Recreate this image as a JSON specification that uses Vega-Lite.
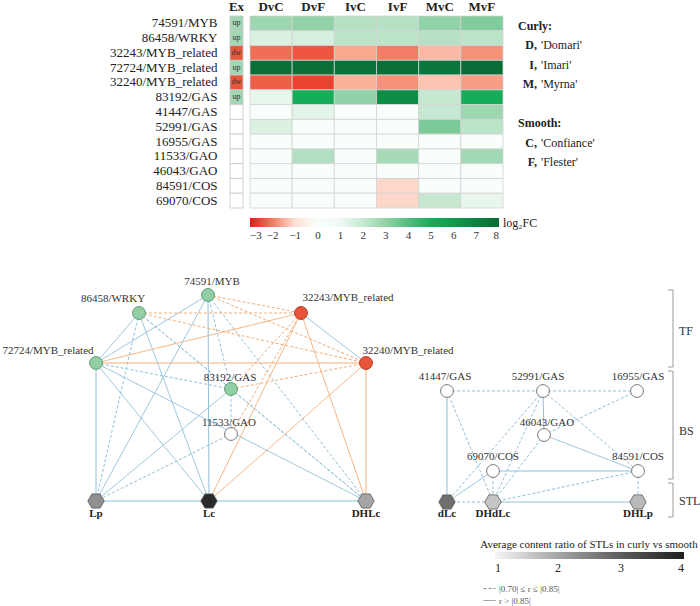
{
  "$schema": "https://vega.github.io/schema/vega-lite/v6.json",
  "padding": 0,
  "background": "white",
  "config": {"font": "Liberation Serif", "view": {"stroke": null}},
  "datasets": {
    "ex": [
      {"gene": "74591/MYB", "col": "Ex", "ex": "up", "lab": "up"},
      {"gene": "86458/WRKY", "col": "Ex", "ex": "up", "lab": "up"},
      {"gene": "32243/MYB_related", "col": "Ex", "ex": "dw", "lab": "dw"},
      {"gene": "72724/MYB_related", "col": "Ex", "ex": "up", "lab": "up"},
      {"gene": "32240/MYB_related", "col": "Ex", "ex": "dw", "lab": "dw"},
      {"gene": "83192/GAS", "col": "Ex", "ex": "up", "lab": "up"},
      {"gene": "41447/GAS", "col": "Ex", "ex": "none", "lab": ""},
      {"gene": "52991/GAS", "col": "Ex", "ex": "none", "lab": ""},
      {"gene": "16955/GAS", "col": "Ex", "ex": "none", "lab": ""},
      {"gene": "11533/GAO", "col": "Ex", "ex": "none", "lab": ""},
      {"gene": "46043/GAO", "col": "Ex", "ex": "none", "lab": ""},
      {"gene": "84591/COS", "col": "Ex", "ex": "none", "lab": ""},
      {"gene": "69070/COS", "col": "Ex", "ex": "none", "lab": ""}
    ],
    "heat": [
      {"gene": "74591/MYB", "cmp": "DvC", "v": 2.8}, {"gene": "74591/MYB", "cmp": "DvF", "v": 3.0}, {"gene": "74591/MYB", "cmp": "IvC", "v": 2.3}, {"gene": "74591/MYB", "cmp": "IvF", "v": 2.3}, {"gene": "74591/MYB", "cmp": "MvC", "v": 3.0}, {"gene": "74591/MYB", "cmp": "MvF", "v": 3.3},
      {"gene": "86458/WRKY", "cmp": "DvC", "v": 1.5}, {"gene": "86458/WRKY", "cmp": "DvF", "v": 1.6}, {"gene": "86458/WRKY", "cmp": "IvC", "v": 2.2}, {"gene": "86458/WRKY", "cmp": "IvF", "v": 2.2}, {"gene": "86458/WRKY", "cmp": "MvC", "v": 2.3}, {"gene": "86458/WRKY", "cmp": "MvF", "v": 2.2},
      {"gene": "32243/MYB_related", "cmp": "DvC", "v": -2.2}, {"gene": "32243/MYB_related", "cmp": "DvF", "v": -2.5}, {"gene": "32243/MYB_related", "cmp": "IvC", "v": -1.6}, {"gene": "32243/MYB_related", "cmp": "IvF", "v": -2.0}, {"gene": "32243/MYB_related", "cmp": "MvC", "v": -1.4}, {"gene": "32243/MYB_related", "cmp": "MvF", "v": -1.8},
      {"gene": "72724/MYB_related", "cmp": "DvC", "v": 7.8}, {"gene": "72724/MYB_related", "cmp": "DvF", "v": 7.8}, {"gene": "72724/MYB_related", "cmp": "IvC", "v": 7.6}, {"gene": "72724/MYB_related", "cmp": "IvF", "v": 7.8}, {"gene": "72724/MYB_related", "cmp": "MvC", "v": 7.5}, {"gene": "72724/MYB_related", "cmp": "MvF", "v": 7.9},
      {"gene": "32240/MYB_related", "cmp": "DvC", "v": -2.4}, {"gene": "32240/MYB_related", "cmp": "DvF", "v": -2.7}, {"gene": "32240/MYB_related", "cmp": "IvC", "v": -1.5}, {"gene": "32240/MYB_related", "cmp": "IvF", "v": -1.8}, {"gene": "32240/MYB_related", "cmp": "MvC", "v": -1.3}, {"gene": "32240/MYB_related", "cmp": "MvF", "v": -1.7},
      {"gene": "83192/GAS", "cmp": "DvC", "v": 1.2}, {"gene": "83192/GAS", "cmp": "DvF", "v": 5.0}, {"gene": "83192/GAS", "cmp": "IvC", "v": 3.0}, {"gene": "83192/GAS", "cmp": "IvF", "v": 6.5}, {"gene": "83192/GAS", "cmp": "MvC", "v": 2.0}, {"gene": "83192/GAS", "cmp": "MvF", "v": 5.0},
      {"gene": "41447/GAS", "cmp": "DvC", "v": 0}, {"gene": "41447/GAS", "cmp": "DvF", "v": 1.3}, {"gene": "41447/GAS", "cmp": "IvC", "v": 0}, {"gene": "41447/GAS", "cmp": "IvF", "v": 0}, {"gene": "41447/GAS", "cmp": "MvC", "v": 2.0}, {"gene": "41447/GAS", "cmp": "MvF", "v": 2.8},
      {"gene": "52991/GAS", "cmp": "DvC", "v": 1.5}, {"gene": "52991/GAS", "cmp": "DvF", "v": 0}, {"gene": "52991/GAS", "cmp": "IvC", "v": 0}, {"gene": "52991/GAS", "cmp": "IvF", "v": 0}, {"gene": "52991/GAS", "cmp": "MvC", "v": 3.4}, {"gene": "52991/GAS", "cmp": "MvF", "v": 2.2},
      {"gene": "16955/GAS", "cmp": "DvC", "v": 0}, {"gene": "16955/GAS", "cmp": "DvF", "v": 0}, {"gene": "16955/GAS", "cmp": "IvC", "v": 0}, {"gene": "16955/GAS", "cmp": "IvF", "v": 0}, {"gene": "16955/GAS", "cmp": "MvC", "v": 0}, {"gene": "16955/GAS", "cmp": "MvF", "v": 0},
      {"gene": "11533/GAO", "cmp": "DvC", "v": 0}, {"gene": "11533/GAO", "cmp": "DvF", "v": 2.4}, {"gene": "11533/GAO", "cmp": "IvC", "v": 0}, {"gene": "11533/GAO", "cmp": "IvF", "v": 2.6}, {"gene": "11533/GAO", "cmp": "MvC", "v": 0}, {"gene": "11533/GAO", "cmp": "MvF", "v": 2.7},
      {"gene": "46043/GAO", "cmp": "DvC", "v": 0}, {"gene": "46043/GAO", "cmp": "DvF", "v": 0}, {"gene": "46043/GAO", "cmp": "IvC", "v": 0}, {"gene": "46043/GAO", "cmp": "IvF", "v": 0}, {"gene": "46043/GAO", "cmp": "MvC", "v": 0}, {"gene": "46043/GAO", "cmp": "MvF", "v": 0},
      {"gene": "84591/COS", "cmp": "DvC", "v": 0}, {"gene": "84591/COS", "cmp": "DvF", "v": 0}, {"gene": "84591/COS", "cmp": "IvC", "v": 0}, {"gene": "84591/COS", "cmp": "IvF", "v": -1.1}, {"gene": "84591/COS", "cmp": "MvC", "v": 0}, {"gene": "84591/COS", "cmp": "MvF", "v": 0},
      {"gene": "69070/COS", "cmp": "DvC", "v": 0}, {"gene": "69070/COS", "cmp": "DvF", "v": 0}, {"gene": "69070/COS", "cmp": "IvC", "v": 0}, {"gene": "69070/COS", "cmp": "IvF", "v": -1.1}, {"gene": "69070/COS", "cmp": "MvC", "v": 2.0}, {"gene": "69070/COS", "cmp": "MvF", "v": 1.2}
    ],
    "legtext": [
      {"line": 1, "lvl": 0, "b": "Curly:", "n": ""},
      {"line": 2, "lvl": 1, "b": "D,", "n": "'Domari'"},
      {"line": 3, "lvl": 1, "b": "I,", "n": "'Imari'"},
      {"line": 4, "lvl": 1, "b": "M,", "n": "'Myrna'"},
      {"line": 6, "lvl": 0, "b": "Smooth:", "n": ""},
      {"line": 7, "lvl": 1, "b": "C,", "n": "'Confiance'"},
      {"line": 8, "lvl": 1, "b": "F,", "n": "'Flester'"}
    ],
    "nodes": [
      {"id": "A", "name": "74591/MYB", "kind": "gene", "exp": "up", "x": 208, "y": 295, "lx": 212, "ly": 282},
      {"id": "W", "name": "86458/WRKY", "kind": "gene", "exp": "up", "x": 139, "y": 313, "lx": 113, "ly": 299},
      {"id": "R1", "name": "32243/MYB_related", "kind": "gene", "exp": "dw", "x": 301, "y": 313, "lx": 348, "ly": 298},
      {"id": "M", "name": "72724/MYB_related", "kind": "gene", "exp": "up", "x": 96, "y": 363, "lx": 48, "ly": 351},
      {"id": "R2", "name": "32240/MYB_related", "kind": "gene", "exp": "dw", "x": 366, "y": 363, "lx": 408, "ly": 351},
      {"id": "G", "name": "83192/GAS", "kind": "gene", "exp": "up", "x": 231, "y": 389, "lx": 230, "ly": 378},
      {"id": "O", "name": "11533/GAO", "kind": "gene", "exp": "none", "x": 231, "y": 434, "lx": 229, "ly": 423},
      {"id": "Lp", "name": "Lp", "kind": "stl", "ratio": 2.3, "x": 96, "y": 501, "lx": 96, "ly": 514},
      {"id": "Lc", "name": "Lc", "kind": "stl", "ratio": 3.8, "x": 209, "y": 501, "lx": 209, "ly": 514},
      {"id": "DHLc", "name": "DHLc", "kind": "stl", "ratio": 2.0, "x": 366, "y": 501, "lx": 366, "ly": 514},
      {"id": "g1", "name": "41447/GAS", "kind": "gene", "exp": "none", "x": 447, "y": 391, "lx": 445, "ly": 377},
      {"id": "g2", "name": "52991/GAS", "kind": "gene", "exp": "none", "x": 543, "y": 391, "lx": 538, "ly": 377},
      {"id": "g3", "name": "16955/GAS", "kind": "gene", "exp": "none", "x": 637, "y": 391, "lx": 638, "ly": 377},
      {"id": "o2", "name": "46043/GAO", "kind": "gene", "exp": "none", "x": 544, "y": 435, "lx": 547, "ly": 423},
      {"id": "c1", "name": "69070/COS", "kind": "gene", "exp": "none", "x": 493, "y": 471, "lx": 493, "ly": 457},
      {"id": "c2", "name": "84591/COS", "kind": "gene", "exp": "none", "x": 638, "y": 471, "lx": 638, "ly": 457},
      {"id": "dLc", "name": "dLc", "kind": "stl", "ratio": 2.75, "x": 447, "y": 502, "lx": 447, "ly": 514},
      {"id": "DHdLc", "name": "DHdLc", "kind": "stl", "ratio": 1.6, "x": 493, "y": 502, "lx": 493, "ly": 514},
      {"id": "DHLp", "name": "DHLp", "kind": "stl", "ratio": 1.75, "x": 638, "y": 502, "lx": 638, "ly": 514}
    ],
    "edges": [
      {"s": "W", "t": "M", "sign": "pos", "r": "r > |0.85|"},
      {"s": "A", "t": "M", "sign": "pos", "r": "r > |0.85|"},
      {"s": "M", "t": "Lp", "sign": "pos", "r": "r > |0.85|"},
      {"s": "A", "t": "Lc", "sign": "pos", "r": "r > |0.85|"},
      {"s": "Lp", "t": "Lc", "sign": "pos", "r": "r > |0.85|"},
      {"s": "Lc", "t": "DHLc", "sign": "pos", "r": "r > |0.85|"},
      {"s": "A", "t": "Lp", "sign": "pos", "r": "r > |0.85|"},
      {"s": "W", "t": "Lc", "sign": "pos", "r": "r > |0.85|"},
      {"s": "M", "t": "Lc", "sign": "pos", "r": "r > |0.85|"},
      {"s": "G", "t": "Lp", "sign": "pos", "r": "r > |0.85|"},
      {"s": "M", "t": "DHLc", "sign": "pos", "r": "r > |0.85|"},
      {"s": "R1", "t": "R2", "sign": "pos", "r": "r > |0.85|"},
      {"s": "W", "t": "Lp", "sign": "pos", "r": "|0.70| ≤ r ≤ |0.85|"},
      {"s": "W", "t": "G", "sign": "pos", "r": "|0.70| ≤ r ≤ |0.85|"},
      {"s": "A", "t": "G", "sign": "pos", "r": "|0.70| ≤ r ≤ |0.85|"},
      {"s": "M", "t": "G", "sign": "pos", "r": "|0.70| ≤ r ≤ |0.85|"},
      {"s": "G", "t": "O", "sign": "pos", "r": "|0.70| ≤ r ≤ |0.85|"},
      {"s": "O", "t": "Lp", "sign": "pos", "r": "|0.70| ≤ r ≤ |0.85|"},
      {"s": "A", "t": "DHLc", "sign": "pos", "r": "|0.70| ≤ r ≤ |0.85|"},
      {"s": "W", "t": "DHLc", "sign": "pos", "r": "|0.70| ≤ r ≤ |0.85|"},
      {"s": "G", "t": "DHLc", "sign": "pos", "r": "|0.70| ≤ r ≤ |0.85|"},
      {"s": "M", "t": "R1", "sign": "neg", "r": "r > |0.85|"},
      {"s": "M", "t": "R2", "sign": "neg", "r": "r > |0.85|"},
      {"s": "R1", "t": "Lc", "sign": "neg", "r": "r > |0.85|"},
      {"s": "R2", "t": "Lc", "sign": "neg", "r": "r > |0.85|"},
      {"s": "R1", "t": "DHLc", "sign": "neg", "r": "r > |0.85|"},
      {"s": "R2", "t": "DHLc", "sign": "neg", "r": "r > |0.85|"},
      {"s": "A", "t": "R1", "sign": "neg", "r": "|0.70| ≤ r ≤ |0.85|"},
      {"s": "A", "t": "R2", "sign": "neg", "r": "|0.70| ≤ r ≤ |0.85|"},
      {"s": "W", "t": "R1", "sign": "neg", "r": "|0.70| ≤ r ≤ |0.85|"},
      {"s": "W", "t": "R2", "sign": "neg", "r": "|0.70| ≤ r ≤ |0.85|"},
      {"s": "G", "t": "R1", "sign": "neg", "r": "|0.70| ≤ r ≤ |0.85|"},
      {"s": "G", "t": "R2", "sign": "neg", "r": "|0.70| ≤ r ≤ |0.85|"},
      {"s": "R1", "t": "O", "sign": "neg", "r": "|0.70| ≤ r ≤ |0.85|"},
      {"s": "g1", "t": "dLc", "sign": "pos", "r": "r > |0.85|"},
      {"s": "g2", "t": "o2", "sign": "pos", "r": "r > |0.85|"},
      {"s": "o2", "t": "c2", "sign": "pos", "r": "r > |0.85|"},
      {"s": "c1", "t": "c2", "sign": "pos", "r": "r > |0.85|"},
      {"s": "c1", "t": "dLc", "sign": "pos", "r": "r > |0.85|"},
      {"s": "DHdLc", "t": "DHLp", "sign": "pos", "r": "r > |0.85|"},
      {"s": "g1", "t": "g2", "sign": "pos", "r": "|0.70| ≤ r ≤ |0.85|"},
      {"s": "g2", "t": "g3", "sign": "pos", "r": "|0.70| ≤ r ≤ |0.85|"},
      {"s": "g1", "t": "DHdLc", "sign": "pos", "r": "|0.70| ≤ r ≤ |0.85|"},
      {"s": "g2", "t": "dLc", "sign": "pos", "r": "|0.70| ≤ r ≤ |0.85|"},
      {"s": "g2", "t": "DHdLc", "sign": "pos", "r": "|0.70| ≤ r ≤ |0.85|"},
      {"s": "g2", "t": "c2", "sign": "pos", "r": "|0.70| ≤ r ≤ |0.85|"},
      {"s": "g3", "t": "o2", "sign": "pos", "r": "|0.70| ≤ r ≤ |0.85|"},
      {"s": "o2", "t": "DHdLc", "sign": "pos", "r": "|0.70| ≤ r ≤ |0.85|"},
      {"s": "c1", "t": "DHdLc", "sign": "pos", "r": "|0.70| ≤ r ≤ |0.85|"},
      {"s": "dLc", "t": "DHdLc", "sign": "pos", "r": "|0.70| ≤ r ≤ |0.85|"},
      {"s": "c2", "t": "DHLp", "sign": "pos", "r": "|0.70| ≤ r ≤ |0.85|"},
      {"s": "c2", "t": "DHdLc", "sign": "pos", "r": "|0.70| ≤ r ≤ |0.85|"}
    ],
    "brackets": [
      {"g": "TF", "y1": 290, "y2": 367, "ym": 331},
      {"g": "BS", "y1": 371, "y2": 479, "ym": 431},
      {"g": "STL", "y1": 483, "y2": 517, "ym": 501}
    ],
    "notes": [
      {"text": "Average content ratio of STLs in curly vs smooth", "x": 589, "y": 545}
    ]
  },
  "spacing": 19,
  "resolve": {"scale": {"color": "independent", "stroke": "independent", "strokeDash": "independent"}, "legend": {"color": "independent", "strokeDash": "independent"}},
  "vconcat": [
    {
      "bounds": "flush",
      "spacing": 7,
      "resolve": {"scale": {"color": "independent"}, "legend": {"color": "independent"}},
      "hconcat": [
        {
          "width": 13,
          "height": 192,
          "data": {"name": "ex"},
          "encoding": {
            "x": {"field": "col", "type": "nominal", "axis": {"orient": "top", "title": null, "labelAngle": 0, "labelFontWeight": "bold", "labelFontSize": 13, "labelColor": "#222", "ticks": false, "domain": false, "labelPadding": 3}},
            "y": {"field": "gene", "type": "nominal", "sort": ["74591/MYB", "86458/WRKY", "32243/MYB_related", "72724/MYB_related", "32240/MYB_related", "83192/GAS", "41447/GAS", "52991/GAS", "16955/GAS", "11533/GAO", "46043/GAO", "84591/COS", "69070/COS"], "axis": {"title": null, "ticks": false, "domain": false, "labelFontSize": 13, "labelColor": "#222", "labelPadding": 13, "minExtent": 230}}
          },
          "layer": [
            {
              "mark": {"type": "rect", "stroke": "#c8c8c8", "strokeWidth": 0.8},
              "encoding": {"color": {"field": "ex", "type": "nominal", "scale": {"domain": ["up", "dw", "none"], "range": ["#a2d7b3", "#e5563b", "#ffffff"]}, "legend": null}}
            },
            {
              "mark": {"type": "text", "fontSize": 8, "color": "#333"},
              "encoding": {"text": {"field": "lab"}}
            }
          ]
        },
        {
          "width": 253,
          "height": 192,
          "data": {"name": "heat"},
          "mark": {"type": "rect", "stroke": "#d3d3d3", "strokeWidth": 0.8},
          "encoding": {
            "x": {"field": "cmp", "type": "nominal", "sort": ["DvC", "DvF", "IvC", "IvF", "MvC", "MvF"], "axis": {"orient": "top", "title": null, "labelAngle": 0, "labelFontWeight": "bold", "labelFontSize": 13, "labelColor": "#222", "ticks": false, "domain": false, "labelPadding": 3}},
            "y": {"field": "gene", "type": "nominal", "sort": ["74591/MYB", "86458/WRKY", "32243/MYB_related", "72724/MYB_related", "32240/MYB_related", "83192/GAS", "41447/GAS", "52991/GAS", "16955/GAS", "11533/GAO", "46043/GAO", "84591/COS", "69070/COS"], "axis": null},
            "color": {
              "field": "v", "type": "quantitative",
              "scale": {"domain": [-3, -2, -1, 0, 1, 2, 3, 4, 5, 6, 7, 8], "range": ["#e8161b", "#f27d65", "#fde1d6", "#ffffff", "#f0f9f3", "#c6e8d1", "#92d2a8", "#52bd7f", "#16ad5a", "#0f9a4d", "#0b8241", "#096a35"]},
              "legend": {"orient": "bottom", "direction": "horizontal", "gradientLength": 249, "gradientThickness": 9, "values": [-3, -2, -1, 0, 1, 2, 3, 4, 5, 6, 7, 8], "title": "log₂FC", "titleOrient": "right", "titleFontWeight": "normal", "titleFontSize": 12, "titleColor": "#222", "labelFontSize": 11, "labelColor": "#333", "labelAlign": "center", "offset": 10, "gradientStrokeWidth": 0, "titlePadding": 4, "labelOffset": 3}
            }
          }
        },
        {
          "width": 180,
          "height": 192,
          "data": {"name": "legtext"},
          "encoding": {
            "x": {"field": "lvl", "type": "quantitative", "scale": {"domain": [0, 1], "range": [8, 27]}, "axis": null},
            "y": {"field": "line", "type": "quantitative", "scale": {"domain": [1, 8], "range": [10, 146]}, "axis": null}
          },
          "layer": [
            {"transform": [{"filter": "datum.lvl === 0"}], "mark": {"type": "text", "align": "left", "baseline": "middle", "fontSize": 12, "fontWeight": "bold", "color": "#222"}, "encoding": {"text": {"field": "b"}}},
            {"transform": [{"filter": "datum.lvl === 1"}], "mark": {"type": "text", "align": "right", "baseline": "middle", "fontSize": 12, "fontWeight": "bold", "color": "#222"}, "encoding": {"text": {"field": "b"}}},
            {"transform": [{"filter": "datum.lvl === 1"}], "mark": {"type": "text", "align": "left", "dx": 4, "baseline": "middle", "fontSize": 12, "color": "#222"}, "encoding": {"text": {"field": "n"}}}
          ]
        }
      ]
    },
    {
      "width": 470,
      "height": 346,
      "resolve": {"scale": {"color": "independent"}},
      "layer": [
        {
          "data": {"name": "edges"},
          "transform": [
            {"lookup": "s", "from": {"data": {"name": "nodes"}, "key": "id", "fields": ["x", "y"]}, "as": ["sx", "sy"]},
            {"lookup": "t", "from": {"data": {"name": "nodes"}, "key": "id", "fields": ["x", "y"]}, "as": ["tx", "ty"]}
          ],
          "mark": {"type": "rule", "strokeWidth": 1},
          "encoding": {
            "x": {"field": "sx", "type": "quantitative", "scale": {"domain": [230, 700], "nice": false, "zero": false}, "axis": null},
            "y": {"field": "sy", "type": "quantitative", "scale": {"domain": [260, 606], "nice": false, "zero": false, "reverse": true}, "axis": null},
            "x2": {"field": "tx"},
            "y2": {"field": "ty"},
            "stroke": {"field": "sign", "type": "nominal", "scale": {"domain": ["pos", "neg"], "range": ["#8fc0db", "#f5ad76"]}, "legend": null},
            "strokeDash": {"field": "r", "type": "nominal", "scale": {"domain": ["|0.70| ≤ r ≤ |0.85|", "r > |0.85|"], "range": [[3, 2], [1, 0]]},
              "legend": {"title": null, "orient": "none", "legendX": 253, "legendY": 322, "symbolType": "stroke", "symbolStrokeColor": "#888", "symbolStrokeWidth": 1, "symbolSize": 144, "labelFontSize": 9, "labelColor": "#555", "rowPadding": 0, "labelOffset": 3}}
          }
        },
        {
          "data": {"name": "brackets"},
          "mark": {"type": "rule", "color": "#9a9a9a", "strokeWidth": 1},
          "encoding": {"x": {"datum": 673, "type": "quantitative"}, "y": {"field": "y1", "type": "quantitative"}, "y2": {"field": "y2"}}
        },
        {
          "data": {"name": "brackets"},
          "mark": {"type": "rule", "color": "#9a9a9a", "strokeWidth": 1},
          "encoding": {"x": {"datum": 668, "type": "quantitative"}, "x2": {"datum": 673}, "y": {"field": "y1", "type": "quantitative"}}
        },
        {
          "data": {"name": "brackets"},
          "mark": {"type": "rule", "color": "#9a9a9a", "strokeWidth": 1},
          "encoding": {"x": {"datum": 668, "type": "quantitative"}, "x2": {"datum": 673}, "y": {"field": "y2", "type": "quantitative"}}
        },
        {
          "data": {"name": "brackets"},
          "mark": {"type": "text", "align": "left", "baseline": "middle", "fontSize": 12, "color": "#333"},
          "encoding": {"x": {"datum": 679, "type": "quantitative"}, "y": {"field": "ym", "type": "quantitative"}, "text": {"field": "g"}}
        },
        {
          "data": {"name": "notes"},
          "mark": {"type": "text", "align": "center", "baseline": "middle", "fontSize": 11, "color": "#222"},
          "encoding": {"x": {"field": "x", "type": "quantitative"}, "y": {"field": "y", "type": "quantitative"}, "text": {"field": "text"}}
        },
        {
          "data": {"name": "nodes"},
          "transform": [{"filter": "datum.kind === 'gene' && datum.exp === 'up'"}],
          "mark": {"type": "circle", "size": 165, "fill": "#92cfa5", "stroke": "#5f9c70", "strokeWidth": 1, "opacity": 1},
          "encoding": {"x": {"field": "x", "type": "quantitative"}, "y": {"field": "y", "type": "quantitative"}}
        },
        {
          "data": {"name": "nodes"},
          "transform": [{"filter": "datum.kind === 'gene' && datum.exp === 'dw'"}],
          "mark": {"type": "circle", "size": 165, "fill": "#e8553a", "stroke": "#b33c25", "strokeWidth": 1, "opacity": 1},
          "encoding": {"x": {"field": "x", "type": "quantitative"}, "y": {"field": "y", "type": "quantitative"}}
        },
        {
          "data": {"name": "nodes"},
          "transform": [{"filter": "datum.kind === 'gene' && datum.exp === 'none'"}],
          "mark": {"type": "circle", "size": 165, "fill": "#ffffff", "stroke": "#777777", "strokeWidth": 1, "opacity": 1},
          "encoding": {"x": {"field": "x", "type": "quantitative"}, "y": {"field": "y", "type": "quantitative"}}
        },
        {
          "data": {"name": "nodes"},
          "transform": [{"filter": "datum.kind === 'stl'"}],
          "mark": {"type": "point", "shape": "M-1,0L-0.5,-0.866L0.5,-0.866L1,0L0.5,0.866L-0.5,0.866Z", "filled": true, "size": 270, "stroke": "#5a5a5a", "strokeWidth": 0.8, "opacity": 1},
          "encoding": {
            "x": {"field": "x", "type": "quantitative"},
            "y": {"field": "y", "type": "quantitative"},
            "color": {"field": "ratio", "type": "quantitative", "scale": {"domain": [1, 4], "range": ["#f5f5f5", "#1e1e1e"]},
              "legend": {"title": null, "orient": "none", "legendX": 265, "legendY": 292, "direction": "horizontal", "gradientLength": 189, "gradientThickness": 7, "values": [1, 2, 3, 4], "labelFontSize": 12, "labelColor": "#222222", "labelAlign": "center", "labelOffset": 4, "gradientStrokeWidth": 0}}
          }
        },
        {
          "data": {"name": "nodes"},
          "transform": [{"filter": "datum.kind === 'gene'"}],
          "mark": {"type": "text", "fontSize": 11, "color": "#333", "baseline": "middle"},
          "encoding": {"x": {"field": "lx", "type": "quantitative"}, "y": {"field": "ly", "type": "quantitative"}, "text": {"field": "name"}}
        },
        {
          "data": {"name": "nodes"},
          "transform": [{"filter": "datum.kind === 'stl'"}],
          "mark": {"type": "text", "fontSize": 11, "fontWeight": "bold", "color": "#222", "baseline": "middle"},
          "encoding": {"x": {"field": "lx", "type": "quantitative"}, "y": {"field": "ly", "type": "quantitative"}, "text": {"field": "name"}}
        }
      ]
    }
  ]
}
